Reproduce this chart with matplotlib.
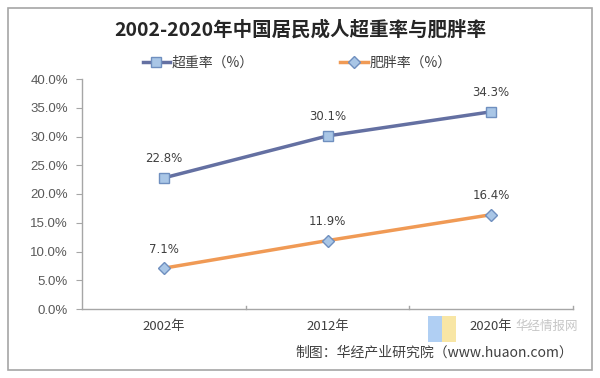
import matplotlib
matplotlib.use("Agg")
import matplotlib.pyplot as plt
from matplotlib.patches import Rectangle

plt.rcParams['font.family'] = ['Noto Sans CJK SC', 'DejaVu Sans']

years = ["2002年", "2012年", "2020年"]
overweight = [22.8, 30.1, 34.3]
obesity = [7.1, 11.9, 16.4]
yticks = [0, 5, 10, 15, 20, 25, 30, 35, 40]
title = "2002-2020年中国居民成人超重率与肥胖率"
series_names = ["超重率（%）", "肥胖率（%）"]
source = "制图：华经产业研究院（www.huaon.com）"
watermark = "华经情报网"

W, H = 600, 378
fig = plt.figure(figsize=(W / 100, H / 100), dpi=100)

def fx(px):
    return px / W

def fy(py):
    return 1 - py / H

# outer border
fig.patches.append(Rectangle((fx(8), fy(370)), fx(584), 362 / H, transform=fig.transFigure,
                             fill=False, edgecolor="#a6a6a6", linewidth=1.2))

ax = fig.add_axes([fx(82), fy(309), fx(573 - 82), (309 - 79) / H])
x = list(range(len(years)))
ax.plot(x, overweight, color="#6470a2", linewidth=2.5, marker="s", markersize=7,
        markerfacecolor="#a9c6e6", markeredgecolor="#6f8fbf", markeredgewidth=1,
        label=series_names[0], zorder=3)
ax.plot(x, obesity, color="#f09a55", linewidth=2.5, marker="D", markersize=6.5,
        markerfacecolor="#a9c6e6", markeredgecolor="#6f8fbf", markeredgewidth=1,
        label=series_names[1], zorder=3)

for series in (overweight, obesity):
    for xi, v in zip(x, series):
        ax.annotate(f"{v:.1f}%", (xi, v), xytext=(0, 9), textcoords="offset points",
                    ha="center", va="bottom", fontsize=8.5, color="#404040",
                    family="DejaVu Sans")

ax.set_xlim(-0.5, len(years) - 0.5)
ax.set_ylim(0, 40)
ax.set_yticks(yticks)
ax.set_yticklabels([f"{t:.1f}%" for t in yticks], fontsize=9.5, color="#595959",
                   family="Liberation Sans")
ax.set_xticks(x)
ax.set_xticklabels(years, fontsize=9.5, color="#404040")
ax.tick_params(axis="x", length=0, pad=8)
ax.tick_params(axis="y", length=4, color="#a6a6a6", pad=6)
for xb in [0.5, 1.5, 2.5]:
    ax.plot([xb, xb], [0, 0.6], color="#a6a6a6", linewidth=1, clip_on=False)
for s in ["top", "right"]:
    ax.spines[s].set_visible(False)
for s in ["left", "bottom"]:
    ax.spines[s].set_color("#a6a6a6")
    ax.spines[s].set_linewidth(1)
ax.set_facecolor("none")

fig.text(0.5, fy(30), title, ha="center", va="center", fontsize=14, fontweight="bold",
         color="#262626")

leg = fig.legend(loc="center left", bbox_to_anchor=(fx(130), fy(63)), ncol=2, frameon=False,
                 fontsize=10, handlelength=2.0, columnspacing=6.2, handletextpad=0.1,
                 labelcolor="#404040")

# watermark
fig.patches.append(Rectangle((fx(428), fy(342)), fx(14), 26 / H, transform=fig.transFigure,
                             facecolor="#9cc3f0", edgecolor="none", alpha=0.8))
fig.patches.append(Rectangle((fx(442), fy(342)), fx(14), 26 / H, transform=fig.transFigure,
                             facecolor="#f7e08f", edgecolor="none", alpha=0.8))
fig.text(fx(515), fy(326), watermark, ha="left", va="center", fontsize=9,
         color="#b8b8b8", alpha=0.8)

fig.text(fx(573), fy(352), source, ha="right", va="center", fontsize=10, color="#404040")

fig.savefig("out.png", dpi=100)
